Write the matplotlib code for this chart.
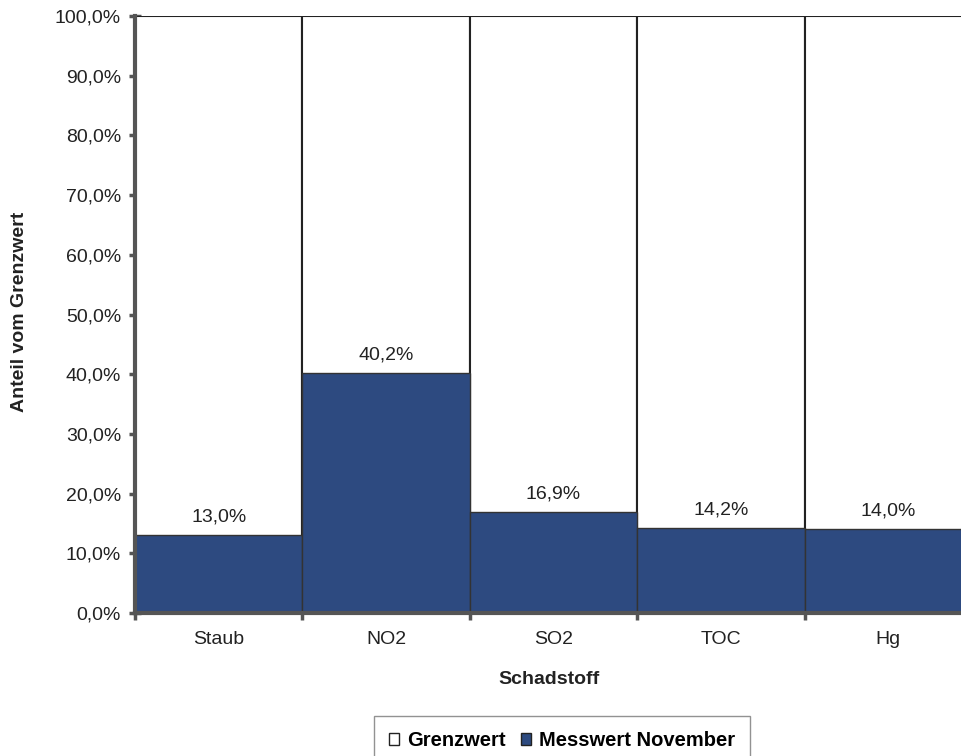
import numpy as np
import matplotlib.pyplot as plt
from matplotlib.ticker import FuncFormatter

plt.rcParams['font.family'] = ['Liberation Sans', 'DejaVu Sans']

stoffe = ["Staub", "NO2", "SO2", "TOC", "Hg"]
grenzwert = [100.0, 100.0, 100.0, 100.0, 100.0]
messwert = [13.0, 40.2, 16.9, 14.2, 14.0]

x = np.arange(1, len(stoffe) + 1)
navy = "#2d4a80"

fig = plt.figure(figsize=(9.61, 7.56), dpi=100)
ax = fig.add_axes([135/961, 1 - 613/756, 837/961, 597/756])

ax.bar(x, grenzwert, width=1.0, color="white", edgecolor="#222222", linewidth=1.5,
       label="Grenzwert", zorder=2)
ax.bar(x, messwert, width=1.0, color=navy, edgecolor="#333333", linewidth=1.0,
       label="Messwert November", zorder=3)

for xi, v in zip(x, messwert):
    ax.text(xi, v + 1.6, f"{v:.1f}%".replace(".", ","), ha="center", va="bottom",
            fontsize=14, color="#222222", zorder=4)

ax.set_xlim(0.5, 5.5)
ax.set_ylim(0, 100)
ax.set_yticks(np.arange(0, 101, 10))
ax.yaxis.set_major_formatter(FuncFormatter(lambda v, p: f"{v:.1f}%".replace(".", ",")))
ax.set_xticks(x)
ax.set_xticklabels(stoffe)
ax.set_xticks(np.arange(0.5, 6, 1), minor=True)

ax.tick_params(axis="y", direction="inout", length=8, width=2.5, color="#555555",
               labelsize=14, labelcolor="#222222", pad=6)
ax.tick_params(axis="x", which="major", length=0, labelsize=14, labelcolor="#222222", pad=13)
ax.tick_params(axis="x", which="minor", direction="out", length=5, width=2.5, color="#555555")

for s in ["top", "right"]:
    ax.spines[s].set_visible(False)
for s in ["left", "bottom"]:
    ax.spines[s].set_linewidth(3)
    ax.spines[s].set_color("#555555")
    ax.spines[s].set_zorder(5)

fig.text(549/961, 1 - 679/756, "Schadstoff", ha="center", va="center",
         fontsize=14, fontweight="bold", color="#222222")
fig.text(20/961, 1 - 312/756, "Anteil vom Grenzwert", ha="center", va="center",
         rotation=90, fontsize=14, fontweight="bold", color="#222222")

leg = fig.legend(loc="upper center", bbox_to_anchor=(562/961, 1 - 716/756), ncol=2,
                 frameon=True, fancybox=False, handlelength=0.5,
                 handleheight=0.5, handletextpad=0.4, columnspacing=0.75,
                 borderpad=0.75, borderaxespad=0,
                 prop={'weight': 'bold', 'size': 14.5})
leg.get_frame().set_edgecolor("#777777")
leg.get_frame().set_linewidth(1.0)
for h in leg.legend_handles:
    h.set_edgecolor("#222222")
    h.set_linewidth(1.0)

fig.savefig("out.png", dpi=100)
